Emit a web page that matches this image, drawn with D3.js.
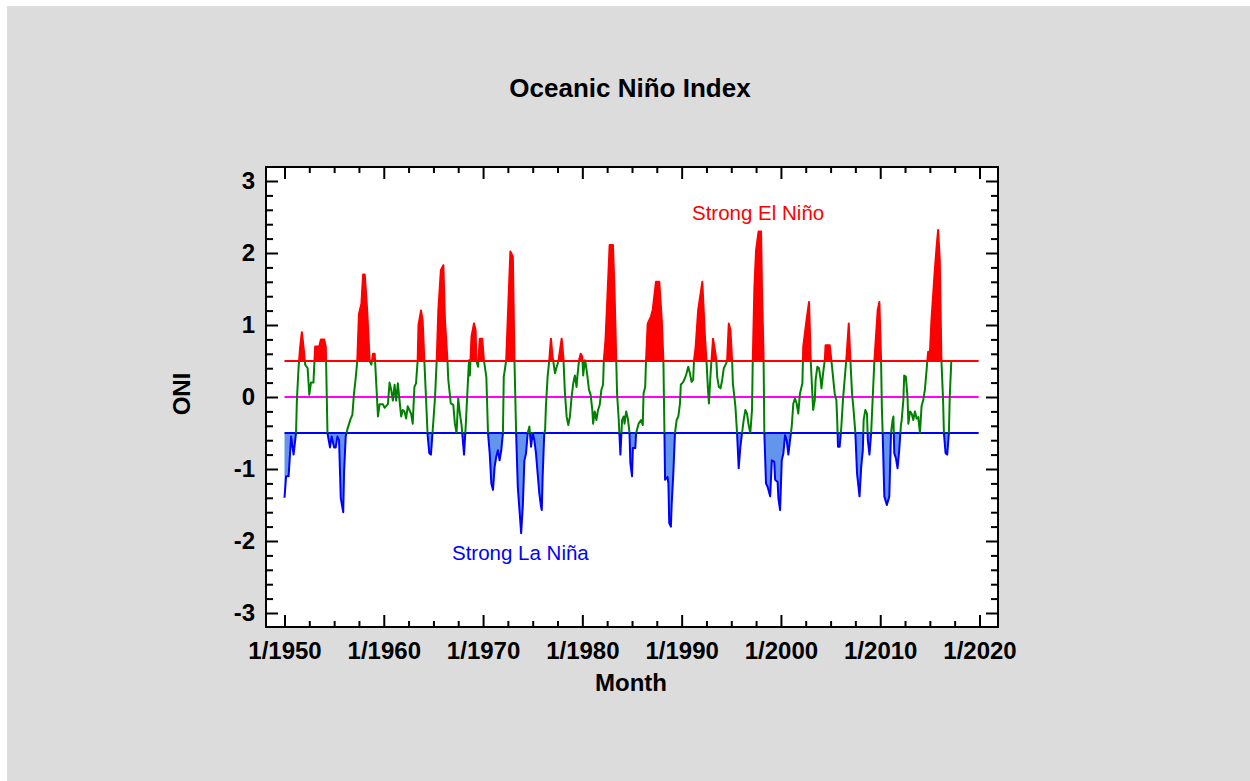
<!DOCTYPE html>
<html>
<head>
<meta charset="utf-8">
<script src="https://cdn.jsdelivr.net/npm/d3@7"></script>
<style>
  body { margin: 0; background: #fff; }
  svg text { font-family: "Liberation Sans", Arial, sans-serif; }
</style>
</head>
<body>
<svg id="chart" width="1250" height="781"></svg>
<script>
// ONI values, month by month where the curve turns
const months = [
  "1950-01","1950-03","1950-06","1950-09","1950-12","1951-03","1951-04","1951-06","1951-08","1951-10","1951-12",
  "1952-02","1952-05","1952-07","1952-09","1952-12","1953-02","1953-07","1953-09","1954-01","1954-03","1954-05",
  "1954-08","1954-10","1955-01","1955-03","1955-05","1955-07","1955-09","1955-12","1956-01","1956-03","1956-05",
  "1956-09","1956-11","1957-01","1957-03","1957-05","1957-07","1957-10","1957-12","1958-02","1958-05","1958-08",
  "1958-10","1958-12","1959-02","1959-03","1959-06","1959-08","1959-12","1960-02","1960-06","1960-08","1960-10",
  "1960-12","1961-02","1961-04","1961-06","1961-10","1961-12","1962-02","1962-04","1962-06","1962-08","1962-10",
  "1962-12","1963-02","1963-04","1963-06","1963-07","1963-10","1963-12","1964-02","1964-04","1964-06","1964-08",
  "1964-10","1965-01","1965-03","1965-05","1965-07","1965-10","1966-01","1966-03","1966-06","1966-07","1966-10",
  "1967-01","1967-03","1967-05","1967-07","1967-09","1967-11","1968-02","1968-04","1968-06","1968-08","1968-09",
  "1968-11","1969-02","1969-04","1969-05","1969-07","1969-09","1969-12","1970-02","1970-05","1970-07","1970-09",
  "1970-11","1971-01","1971-03","1971-05","1971-07","1971-09","1971-11","1972-01","1972-02","1972-05","1972-07",
  "1972-10","1973-01","1973-03","1973-05","1973-07","1973-09","1973-11","1974-01","1974-03","1974-05","1974-07",
  "1974-09","1974-11","1975-01","1975-03","1975-05","1975-07","1975-09","1975-11","1975-12","1976-01","1976-03",
  "1976-04","1976-05","1976-07","1976-09","1976-11","1977-01","1977-04","1977-06","1977-08","1977-10","1977-12",
  "1978-02","1978-04","1978-06","1978-08","1978-10","1978-12","1979-02","1979-04","1979-06","1979-07","1979-09",
  "1979-11","1980-01","1980-02","1980-04","1980-05","1980-07","1980-09","1980-11","1981-01","1981-02","1981-04",
  "1981-06","1981-08","1981-10","1981-12","1982-02","1982-03","1982-05","1982-07","1982-10","1983-02","1983-04",
  "1983-06","1983-07","1983-09","1983-11","1984-01","1984-03","1984-04","1984-06","1984-08","1984-10","1984-11",
  "1985-01","1985-02","1985-05","1985-06","1985-09","1985-12","1986-02","1986-03","1986-05","1986-06","1986-08",
  "1986-12","1987-02","1987-06","1987-10","1988-01","1988-03","1988-04","1988-05","1988-08","1988-09","1988-10",
  "1988-12","1989-01","1989-03","1989-05","1989-07","1989-09","1989-11","1989-12","1990-03","1990-05","1990-07",
  "1990-09","1990-11","1991-01","1991-03","1991-04","1991-06","1991-09","1992-02","1992-05","1992-07","1992-09",
  "1992-10","1992-12","1993-01","1993-03","1993-06","1993-07","1993-08","1993-10","1993-12","1994-02","1994-04",
  "1994-07","1994-08","1994-10","1994-12","1995-02","1995-03","1995-06","1995-08","1995-10","1995-12","1996-02",
  "1996-04","1996-06","1996-08","1996-10","1996-12","1997-02","1997-03","1997-05","1997-07","1997-10","1998-01",
  "1998-02","1998-04","1998-05","1998-07","1998-09","1998-12","1999-02","1999-05","1999-06","1999-09","1999-10",
  "1999-12","2000-02","2000-04","2000-06","2000-08","2000-10","2000-12","2001-02","2001-04","2001-06","2001-08",
  "2001-10","2001-12","2002-03","2002-04","2002-08","2002-11","2003-01","2003-03","2003-04","2003-06","2003-07",
  "2003-09","2003-11","2004-01","2004-02","2004-04","2004-06","2004-07","2004-12","2005-02","2005-04","2005-06",
  "2005-08","2005-09","2005-10","2005-12","2006-02","2006-04","2006-06","2006-08","2006-11","2007-01","2007-03",
  "2007-05","2007-07","2007-09","2007-12","2008-02","2008-04","2008-05","2008-07","2008-09","2008-10","2008-12",
  "2009-02","2009-04","2009-06","2009-10","2009-12","2010-02","2010-03","2010-04","2010-06","2010-09","2010-12",
  "2011-02","2011-04","2011-05","2011-06","2011-08","2011-10","2011-12","2012-02","2012-03","2012-05","2012-06",
  "2012-08","2012-10","2012-11","2013-01","2013-03","2013-05","2013-07","2013-09","2013-11","2014-01","2014-03",
  "2014-05","2014-07","2014-09","2014-10","2014-11","2015-01","2015-03","2015-07","2015-09","2015-11","2016-01",
  "2016-03","2016-05","2016-06","2016-08","2016-10","2016-12","2017-01","2017-03"
];
const oni = [
  -1.4,-1.1,-1.1,-0.55,-0.8,-0.5,-0.05,0.4,0.7,0.9,0.7,
  0.45,0.4,0.03,0.2,0.2,0.7,0.7,0.8,0.8,0.7,-0.5,
  -0.7,-0.55,-0.7,-0.7,-0.55,-0.6,-1.4,-1.6,-1.05,-0.55,-0.45,
  -0.3,-0.25,0.05,0.25,0.5,1.15,1.3,1.7,1.7,1.2,0.5,
  0.45,0.6,0.6,0.4,-0.27,-0.1,-0.1,-0.15,-0.1,0.2,0.1,
  -0.05,0.17,-0.05,0.19,-0.27,-0.18,-0.2,-0.3,-0.13,-0.18,-0.23,
  -0.37,0.14,0.19,0.51,1.0,1.2,1.07,0.51,0,-0.53,-0.78,
  -0.8,-0.32,0,0.51,1.21,1.76,1.83,1.07,0.51,0.24,-0.09,
  -0.11,-0.37,-0.5,-0.02,-0.23,-0.39,-0.8,-0.41,0.05,0.51,0.3,
  0.84,1.02,0.93,0.5,0.42,0.81,0.81,0.51,0.28,-0.5,-0.78,
  -1.2,-1.29,-0.97,-0.83,-0.74,-0.88,-0.74,-0.5,0.28,0.51,1.12,
  2.02,1.95,0.5,-0.5,-1.25,-1.57,-1.89,-1.52,-0.88,-0.78,-0.5,
  -0.41,-0.69,-0.5,-0.6,-0.78,-1.06,-1.34,-1.52,-1.57,-1.11,-0.5,
  -0.46,-0.13,0.28,0.51,0.81,0.56,0.33,0.42,0.49,0.65,0.81,
  0.56,0.05,-0.27,-0.39,-0.27,0,0.19,0.3,0.14,0.28,0.51,
  0.6,0.56,0.3,0.51,0.47,0.3,0.1,0.03,-0.18,-0.37,-0.2,
  -0.32,-0.18,-0.11,0.1,0.17,0.51,0.79,1.3,2.11,2.11,1.44,
  0.51,0.05,-0.32,-0.8,-0.32,-0.27,-0.37,-0.2,-0.3,-0.5,-0.92,
  -1.1,-0.71,-0.71,-0.5,-0.37,-0.32,-0.39,0.05,0.14,0.51,1.02,
  1.12,1.21,1.6,1.6,1.07,0.5,-0.3,-1.15,-1.11,-1.2,-1.75,
  -1.8,-1.48,-1.06,-0.5,-0.32,-0.27,-0.09,0.17,0.21,0.26,0.33,
  0.42,0.33,0.21,0.24,0.51,0.7,1.21,1.6,0.88,0.51,0.07,
  -0.09,0.33,0.5,0.81,0.6,0.5,0.28,0.14,0.12,0.24,0.4,
  0.47,0.51,1.02,0.93,0.5,0.19,-0.13,-0.5,-0.99,-0.69,-0.5,
  -0.32,-0.18,-0.23,-0.39,-0.5,-0.18,0.51,1.53,2.04,2.3,2.3,
  1.53,0.6,-0.5,-1.2,-1.25,-1.38,-0.88,-0.9,-1.15,-1.18,-1.41,
  -1.57,-0.88,-0.78,-0.53,-0.6,-0.8,-0.6,-0.41,-0.09,-0.02,-0.09,
  -0.23,0.05,0.19,0.7,1.07,1.32,0.51,0.05,-0.18,-0.04,0.24,
  0.42,0.4,0.24,0.12,0.33,0.51,0.72,0.72,0.5,0.28,0.05,
  -0.04,-0.32,-0.69,-0.69,-0.41,-0.04,0.24,0.51,1.02,0.5,0.05,
  -0.2,-0.5,-1.06,-1.38,-0.97,-0.74,-0.32,-0.18,-0.23,-0.6,-0.8,
  -0.5,0,0.51,1.21,1.32,0.51,-0.13,-0.5,-1.38,-1.5,-1.38,
  -0.5,-0.32,-0.27,-0.78,-0.85,-0.99,-0.74,-0.39,-0.32,-0.04,0.3,
  0.28,0,-0.37,-0.2,-0.23,-0.32,-0.2,-0.3,-0.28,-0.5,-0.13,
  -0.04,0.1,0.37,0.51,0.63,0.6,1.07,1.76,2.06,2.32,1.9,
  0.51,-0.04,-0.5,-0.78,-0.8,-0.5,0,0.51
];
const xTickYears = [1950, 1960, 1970, 1980, 1990, 2000, 2010, 2020];
const yTicks = [-3, -2, -1, 0, 1, 2, 3];
const refLevels = [0.5, 0, -0.5];
const refColors = ["#ff0000", "#ff00ff", "#0000ff"];
const refSpan = ["1950-01", "2019-12"];

const parseMonth = d3.timeParse("%Y-%m");
const data = months.map((m, i) => ({ date: parseMonth(m), v: oni[i] }));

const svg = d3.select("#chart");
const W = 1250, H = 781;
const plot = { left: 266, right: 998, top: 167, bottom: 627 };

// grey panel
svg.append("rect").attr("x", 7).attr("y", 6).attr("width", W - 7).attr("height", H - 6).attr("fill", "#dcdcdc");
svg.append("rect").attr("x", plot.left).attr("y", plot.top)
  .attr("width", plot.right - plot.left).attr("height", plot.bottom - plot.top).attr("fill", "#fff");

const x = d3.scaleTime()
  .domain([new Date(1950, 0, 1), new Date(2020, 0, 1)])
  .range([284.5, 979.5]);
const y = d3.scaleLinear().domain([-3, 3]).range([613, 181]);

// clip bands: above +0.5, between, below -0.5
const bands = [
  { id: "above", y0: plot.top, y1: y(0.5) },
  { id: "mid", y0: y(0.5), y1: y(-0.5) },
  { id: "below", y0: y(-0.5), y1: plot.bottom }
];
const defs = svg.append("defs");
bands.forEach(b => {
  defs.append("clipPath").attr("id", "clip-" + b.id)
    .append("rect").attr("x", plot.left).attr("y", b.y0)
    .attr("width", plot.right - plot.left).attr("height", b.y1 - b.y0);
});

const area = base => d3.area().x(d => x(d.date)).y0(y(base)).y1(d => y(d.v));
const line = d3.line().x(d => x(d.date)).y(d => y(d.v));

svg.append("path").datum(data).attr("clip-path", "url(#clip-above)")
  .attr("d", area(0.5)).attr("fill", "#ff0000");
svg.append("path").datum(data).attr("clip-path", "url(#clip-below)")
  .attr("d", area(-0.5)).attr("fill", "#6495ed");

// reference lines
refLevels.forEach((lv, i) => {
  svg.append("line")
    .attr("x1", x(parseMonth(refSpan[0]))).attr("x2", x(parseMonth(refSpan[1])))
    .attr("y1", y(lv)).attr("y2", y(lv))
    .attr("stroke", refColors[i]).attr("stroke-width", 2);
});

// series line coloured by band
[["above", "#ff0000"], ["mid", "#008000"], ["below", "#0000ff"]].forEach(([id, c]) => {
  svg.append("path").datum(data).attr("clip-path", "url(#clip-" + id + ")")
    .attr("d", line).attr("fill", "none").attr("stroke", c)
    .attr("stroke-width", 2).attr("stroke-linejoin", "round");
});

// axes
const majorX = xTickYears.map(yr => new Date(yr, 0, 1));
const minorX = [];
for (let m = 0; m <= 840; m += 30) {
  if (m % 120 !== 0) minorX.push(new Date(1950, m, 1));
}
const majorY = yTicks;
const minorY = d3.range(-30, 31, 2).map(v => v / 10).filter(v => !Number.isInteger(v));

function styleAxis(g) {
  g.select(".domain").remove();
  g.selectAll(".tick line").attr("stroke", "#000").attr("stroke-width", 2);
  g.attr("font-family", null).attr("font-size", null);
  g.selectAll("text").attr("font-size", 24).attr("font-weight", "bold").attr("fill", "#000");
}

svg.append("g").attr("transform", `translate(0,${plot.bottom})`)
  .call(d3.axisBottom(x).tickValues(majorX).tickSize(-12).tickPadding(15)
    .tickFormat(d3.timeFormat("1/%Y"))).call(styleAxis);
svg.append("g").attr("transform", `translate(0,${plot.bottom})`)
  .call(d3.axisBottom(x).tickValues(minorX).tickSize(-6).tickFormat("")).call(styleAxis);
svg.append("g").attr("transform", `translate(0,${plot.top})`)
  .call(d3.axisTop(x).tickValues(majorX).tickSize(-12).tickFormat("")).call(styleAxis);
svg.append("g").attr("transform", `translate(0,${plot.top})`)
  .call(d3.axisTop(x).tickValues(minorX).tickSize(-6).tickFormat("")).call(styleAxis);

svg.append("g").attr("transform", `translate(${plot.left},0)`)
  .call(d3.axisLeft(y).tickValues(majorY).tickSize(-12).tickPadding(11)
    .tickFormat(d => String(d))).call(styleAxis);
svg.append("g").attr("transform", `translate(${plot.left},0)`)
  .call(d3.axisLeft(y).tickValues(minorY).tickSize(-7).tickFormat("")).call(styleAxis);
svg.append("g").attr("transform", `translate(${plot.right},0)`)
  .call(d3.axisRight(y).tickValues(majorY).tickSize(-12).tickFormat("")).call(styleAxis);
svg.append("g").attr("transform", `translate(${plot.right},0)`)
  .call(d3.axisRight(y).tickValues(minorY).tickSize(-7).tickFormat("")).call(styleAxis);

// frame
svg.append("rect").attr("x", plot.left).attr("y", plot.top)
  .attr("width", plot.right - plot.left).attr("height", plot.bottom - plot.top)
  .attr("fill", "none").attr("stroke", "#000").attr("stroke-width", 2);

// titles and notes
svg.append("text").attr("x", 630).attr("y", 97).attr("text-anchor", "middle")
  .attr("font-size", 26).attr("font-weight", "bold").text("Oceanic Niño Index");
svg.append("text").attr("x", 631).attr("y", 691).attr("text-anchor", "middle")
  .attr("font-size", 24).attr("font-weight", "bold").text("Month");
svg.append("text").attr("transform", "translate(190,394) rotate(-90)").attr("text-anchor", "middle")
  .attr("font-size", 24).attr("font-weight", "bold").text("ONI");
svg.append("text").attr("x", 692).attr("y", 220).attr("font-size", 20.5)
  .attr("fill", "#ff0000").text("Strong El Niño");
svg.append("text").attr("x", 452).attr("y", 560).attr("font-size", 20.5)
  .attr("fill", "#0000ff").text("Strong La Niña");
</script>
</body>
</html>
